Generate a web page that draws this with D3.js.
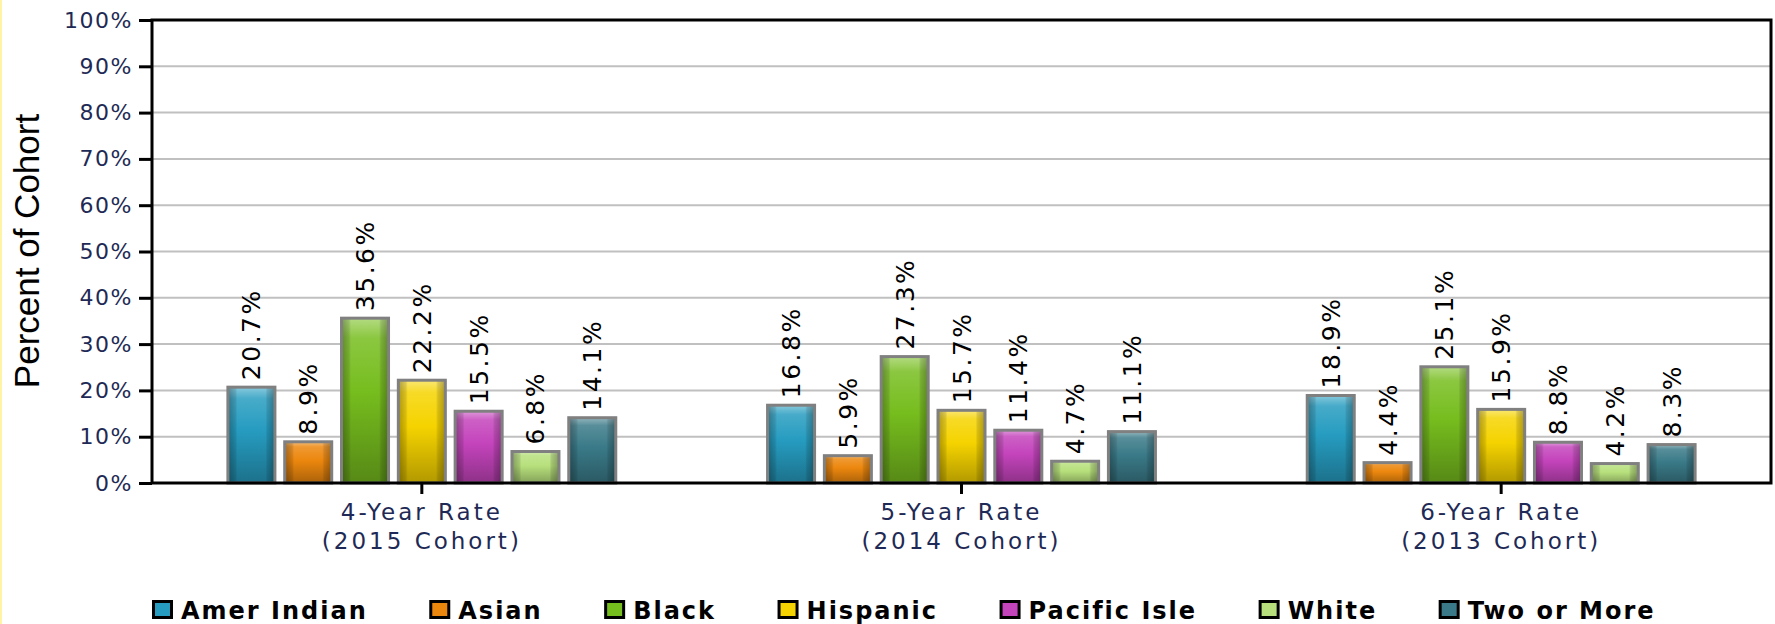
<!DOCTYPE html>
<html>
<head>
<meta charset="utf-8">
<script src="https://cdn.jsdelivr.net/npm/d3@7/dist/d3.min.js"></script>
<style>
  html, body { margin: 0; padding: 0; background: #fff; }
  svg { display: block; }
</style>
</head>
<body>
<svg id="chart" width="1775" height="624"></svg>
<script>
// ---- data ----
const categories = ["4-Year Rate|(2015 Cohort)", "5-Year Rate|(2014 Cohort)", "6-Year Rate|(2013 Cohort)"];
const seriesNames = ["Amer Indian", "Asian", "Black", "Hispanic", "Pacific Isle", "White", "Two or More"];
const amerIndian = [20.7, 16.8, 18.9];
const asian      = [8.9, 5.9, 4.4];
const black      = [35.6, 27.3, 25.1];
const hispanic   = [22.2, 15.7, 15.9];
const pacificIsle= [15.5, 11.4, 8.8];
const white      = [6.8, 4.7, 4.2];
const twoOrMore  = [14.1, 11.1, 8.3];
const yTicks = [0, 10, 20, 30, 40, 50, 60, 70, 80, 90, 100];
const seriesValues = [amerIndian, asian, black, hispanic, pacificIsle, white, twoOrMore];
const seriesColors = ["#269cc0", "#ec870e", "#76bd1e", "#f5d300", "#c444bc", "#b7e07c", "#3a7a88"];

// ---- layout ----
const W = 1775, H = 624;
const m = { left: 152, right: 1771, top: 20, bottom: 483 };
const svg = d3.select("#chart");

const x0 = d3.scaleBand().domain(categories).range([m.left, m.right]).padding(0);
const x1 = d3.scaleBand().domain(seriesNames).range([0, x0.bandwidth()])
  .paddingInner(0.1725).paddingOuter(1.336);
const y = d3.scaleLinear().domain([0, 100]).range([m.bottom, m.top]);

// yellow left edge
svg.append("rect").attr("x", 0).attr("y", 0).attr("width", 2).attr("height", H).attr("fill", "#fff3a6");

// gradients
const defs = svg.append("defs");
seriesColors.forEach((c, i) => {
  const base = d3.color(c);
  const g = defs.append("linearGradient").attr("id", "vg" + i)
    .attr("x1", 0).attr("y1", 0).attr("x2", 0).attr("y2", 1);
  g.append("stop").attr("offset", "0%").attr("stop-color", d3.interpolateRgb(c, "#fff")(0.45));
  g.append("stop").attr("offset", "12%").attr("stop-color", d3.interpolateRgb(c, "#fff")(0.15));
  g.append("stop").attr("offset", "45%").attr("stop-color", c);
  g.append("stop").attr("offset", "100%").attr("stop-color", base.darker(0.9));
});
const hg = defs.append("linearGradient").attr("id", "hg").attr("x1", 0).attr("y1", 0).attr("x2", 1).attr("y2", 0);
hg.append("stop").attr("offset", "0%").attr("stop-color", "#000").attr("stop-opacity", 0.3);
hg.append("stop").attr("offset", "16%").attr("stop-color", "#000").attr("stop-opacity", 0.12);
hg.append("stop").attr("offset", "20%").attr("stop-color", "#000").attr("stop-opacity", 0);
hg.append("stop").attr("offset", "80%").attr("stop-color", "#000").attr("stop-opacity", 0);
hg.append("stop").attr("offset", "84%").attr("stop-color", "#000").attr("stop-opacity", 0.12);
hg.append("stop").attr("offset", "100%").attr("stop-color", "#000").attr("stop-opacity", 0.3);

// gridlines
svg.append("g").selectAll("line").data(yTicks.filter(t => t > 0 && t < 100)).join("line")
  .attr("x1", m.left).attr("x2", m.right)
  .attr("y1", d => y(d)).attr("y2", d => y(d))
  .attr("stroke", "#c0c0c0").attr("stroke-width", 2);

// bars
const groups = svg.append("g").selectAll("g").data(categories).join("g")
  .attr("transform", d => `translate(${x0(d)},0)`);

groups.each(function(cat, ci) {
  const g = d3.select(this);
  const rows = seriesNames.map((s, si) => ({ s, si, v: seriesValues[si][ci] }));
  g.selectAll("rect.bar").data(rows).join("rect").attr("class", "bar")
    .attr("x", d => x1(d.s)).attr("width", x1.bandwidth())
    .attr("y", d => y(d.v)).attr("height", d => y(0) - y(d.v))
    .attr("fill", d => `url(#vg${d.si})`);
  g.selectAll("rect.shade").data(rows).join("rect").attr("class", "shade")
    .attr("x", d => x1(d.s)).attr("width", x1.bandwidth())
    .attr("y", d => y(d.v)).attr("height", d => y(0) - y(d.v))
    .attr("fill", "url(#hg)")
    .attr("stroke", "#808080").attr("stroke-width", 3);
  g.selectAll("text.val").data(rows).join("text").attr("class", "val")
    .attr("transform", d => `translate(${x1(d.s) + x1.bandwidth() / 2},${y(d.v) - 7}) rotate(-90)`)
    .attr("dy", "0.36em")
    .attr("font-family", "DejaVu Sans")
    .attr("font-size", 25)
    .attr("letter-spacing", 2.5)
    .attr("fill", "#000")
    .text(d => d.v.toFixed(1) + "%");
});

// Y axis
const yAxis = svg.append("g").attr("transform", `translate(${m.left},0)`)
  .call(d3.axisLeft(y).tickValues(yTicks).tickFormat(d => d + "%").tickSize(13).tickPadding(6));
yAxis.select(".domain").remove();
yAxis.selectAll(".tick line").attr("stroke", "#000").attr("stroke-width", 3);
yAxis.selectAll(".tick text")
  .attr("font-family", "DejaVu Sans").attr("font-size", 22).attr("letter-spacing", 1.5)
  .attr("fill", "#1e2a55");

// X axis
const xAxis = svg.append("g").attr("transform", `translate(0,${m.bottom})`)
  .call(d3.axisBottom(x0).tickSize(11).tickFormat(""));
xAxis.select(".domain").remove();
xAxis.selectAll(".tick line").attr("stroke", "#000").attr("stroke-width", 3);
xAxis.selectAll(".tick").append("text")
  .attr("text-anchor", "middle")
  .attr("font-family", "DejaVu Sans").attr("font-size", 23).attr("letter-spacing", 3)
  .attr("fill", "#1e2a55")
  .each(function(d) {
    const parts = d.split("|");
    const t = d3.select(this);
    t.append("tspan").attr("x", 0).attr("y", 37).text(parts[0]);
    t.append("tspan").attr("x", 0).attr("y", 66).text(parts[1]);
  });

// frame
svg.append("rect").attr("x", m.left).attr("y", m.top)
  .attr("width", m.right - m.left).attr("height", m.bottom - m.top)
  .attr("fill", "none").attr("stroke", "#000").attr("stroke-width", 3);

// Y title
svg.append("text")
  .attr("transform", `translate(39,251) rotate(-90)`)
  .attr("text-anchor", "middle")
  .attr("font-family", "Liberation Sans").attr("font-size", 35)
  .attr("fill", "#000")
  .text("Percent of Cohort");

// legend
const legend = svg.append("g");
let lx = m.left;
seriesNames.forEach((s, i) => {
  const g = legend.append("g").attr("transform", `translate(${lx},0)`);
  g.append("rect").attr("x", 1.5).attr("y", 601.5).attr("width", 18).attr("height", 16)
    .attr("fill", seriesColors[i]).attr("stroke", "#000").attr("stroke-width", 3);
  const t = g.append("text").attr("x", 29).attr("y", 619)
    .attr("font-family", "DejaVu Sans").attr("font-weight", "bold")
    .attr("font-size", 24).attr("letter-spacing", 2)
    .attr("fill", "#000").text(s);
  lx += 29 + t.node().getComputedTextLength() + 61.5;
});
</script>
</body>
</html>
